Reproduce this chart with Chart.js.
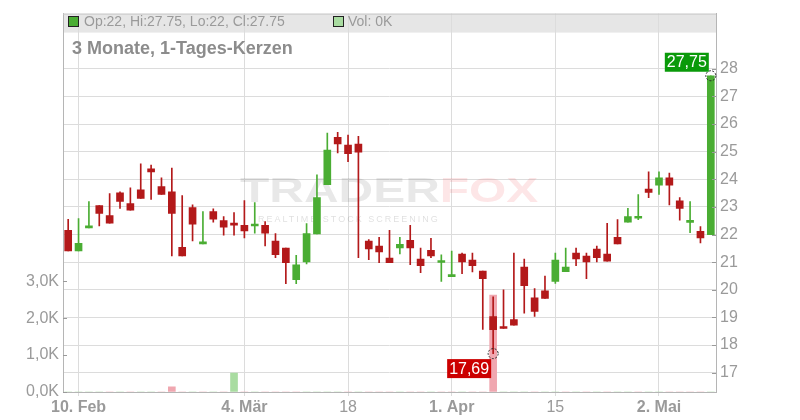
<!DOCTYPE html>
<html>
<head>
<meta charset="utf-8">
<script src="https://cdn.jsdelivr.net/npm/chart.js@4.4.1/dist/chart.umd.min.js"></script>
<style>
  html, body { margin: 0; padding: 0; background: #fff; }
  #wrap { width: 800px; height: 420px; }
</style>
</head>
<body>
<div id="wrap"><canvas id="c"></canvas></div>
<script>
/* 3 Monate, 1-Tages-Kerzen (Chart.js, floating bars as candles). */
const dates = [
  '2025-02-07', '2025-02-10', '2025-02-11', '2025-02-12', '2025-02-13', '2025-02-14',
  '2025-02-17', '2025-02-18', '2025-02-19', '2025-02-20', '2025-02-21',
  '2025-02-24', '2025-02-25', '2025-02-26', '2025-02-27', '2025-02-28',
  '2025-03-03', '2025-03-04', '2025-03-05', '2025-03-06', '2025-03-07',
  '2025-03-10', '2025-03-11', '2025-03-12', '2025-03-13', '2025-03-14',
  '2025-03-17', '2025-03-18', '2025-03-19', '2025-03-20', '2025-03-21',
  '2025-03-24', '2025-03-25', '2025-03-26', '2025-03-27', '2025-03-28',
  '2025-03-31', '2025-04-01', '2025-04-02', '2025-04-03', '2025-04-04',
  '2025-04-07', '2025-04-08', '2025-04-09', '2025-04-10', '2025-04-11',
  '2025-04-14', '2025-04-15', '2025-04-16', '2025-04-17',
  '2025-04-22', '2025-04-23', '2025-04-24', '2025-04-25',
  '2025-04-28', '2025-04-29', '2025-04-30', '2025-05-02',
  '2025-05-05', '2025-05-06', '2025-05-07', '2025-05-08', '2025-05-09',
];
const opens = [
  22.15, 21.41, 22.24, 23.05, 22.69, 23.51, 23.12, 23.62, 24.38, 23.74,
  23.55, 21.54, 22.98, 21.66, 22.83, 22.51, 22.40, 22.33, 22.31, 22.33,
  21.76, 21.51, 20.37, 21.01, 22.02, 23.81, 25.52, 25.24, 25.28, 21.76,
  21.58, 21.15, 21.52, 21.79, 21.11, 21.43, 20.99, 20.48, 21.29, 21.08,
  20.68, 19.03, 18.67, 18.92, 20.82, 19.71, 19.96, 20.30, 20.66, 21.33,
  21.22, 21.47, 21.29, 21.90, 22.45, 22.59, 23.65, 23.79, 24.05, 23.22,
  22.44, 22.12, 22.00,
];
const highs = [
  22.55, 22.58, 23.19, 23.05, 23.48, 23.55, 23.69, 24.56, 24.52, 24.05,
  24.41, 23.41, 23.08, 22.83, 22.93, 22.65, 22.80, 23.23, 23.16, 22.47,
  22.04, 21.51, 21.25, 22.40, 24.16, 25.67, 25.70, 25.60, 25.56, 21.82,
  21.90, 22.15, 21.90, 22.33, 21.51, 21.86, 21.27, 21.40, 21.33, 21.33,
  20.68, 19.75, 20.00, 21.33, 21.11, 20.04, 20.50, 21.33, 21.51, 21.51,
  21.33, 21.58, 22.41, 22.54, 22.95, 23.45, 24.27, 24.27, 24.23, 23.34,
  23.19, 22.29, 27.75,
];
const lows = [
  21.41, 21.41, 22.24, 22.31, 22.41, 22.95, 22.88, 23.31, 23.27, 23.45,
  21.23, 21.23, 21.77, 21.66, 22.45, 21.98, 21.98, 21.88, 22.05, 21.59,
  21.16, 20.22, 20.22, 20.94, 22.02, 23.81, 24.96, 24.64, 21.16, 21.09,
  20.98, 20.98, 21.30, 20.91, 20.62, 21.16, 20.30, 20.48, 20.58, 20.65,
  18.57, 17.69, 18.60, 18.72, 19.15, 19.04, 19.69, 20.23, 20.66, 20.87,
  20.40, 21.01, 21.04, 21.66, 22.45, 22.54, 23.34, 23.45, 23.07, 22.52,
  22.07, 21.70, 22.00,
];
const closes = [
  21.41, 21.68, 22.26, 22.77, 22.41, 23.20, 22.88, 23.31, 24.27, 23.45,
  22.77, 21.23, 22.38, 21.68, 22.56, 22.27, 22.34, 22.13, 22.33, 22.05,
  21.27, 20.98, 20.90, 22.04, 23.34, 25.06, 25.28, 24.93, 24.98, 21.48,
  21.37, 20.98, 21.65, 21.52, 20.87, 21.23, 21.01, 20.50, 21.01, 20.87,
  20.40, 18.56, 18.60, 18.72, 20.15, 19.22, 19.69, 21.08, 20.82, 21.12,
  21.01, 21.16, 21.04, 21.66, 22.65, 22.64, 23.53, 24.05, 23.79, 22.95,
  22.48, 21.88, 27.75,
];
const volumes = [
  0, 0, 0, 0, 0, 0, 0, 0, 0, 0,
  140, 0, 0, 0, 0, 0, 510, 0, 0, 0,
  0, 0, 0, 0, 0, 0, 0, 0, 0, 0,
  0, 0, 0, 0, 0, 0, 0, 0, 0, 0,
  0, 2620, 0, 0, 0, 0, 0, 0, 0, 0,
  0, 0, 0, 0, 0, 0, 0, 0, 0, 0,
  0, 0, 0,
];
const tickLabels = { '2025-02-10': '10. Feb', '2025-03-04': '4. Mär', '2025-03-18': '18',
  '2025-04-01': '1. Apr', '2025-04-15': '15', '2025-05-02': '2. Mai' };
const boldLabels = ['10. Feb', '4. Mär', '1. Apr', '2. Mai'];
const priceTicks = [17, 18, 19, 20, 21, 22, 23, 24, 25, 26, 27, 28];
const volTicks = [0, 1000, 2000, 3000];

const RED = '#b3191a', GREEN = '#4aad33';
const VOL_RED = '#f0a7b0', VOL_GREEN = '#a9dca1';
const FONT = '"Liberation Sans", Arial, sans-serif';
const GRID = '#dcdcdc', AXIS = '#b5b5b5', TXT = '#9a9a9a';

const candleColor = opens.map((o, i) => closes[i] >= o ? GREEN : RED);
const volColor = closes.map((c, i) => i > 0 && c < closes[i - 1] ? VOL_RED : VOL_GREEN);
const fmt = v => String(v);
const komma = v => v.toFixed(2).replace('.', ',');

const last = closes.length - 1;
const iLow = lows.indexOf(Math.min(...lows));
const iHigh = highs.indexOf(Math.max(...highs));

// Kopfzeile, Wasserzeichen, Marker
const deko = {
  id: 'deko',
  beforeDraw(chart) {
    const { ctx, chartArea: a } = chart;
    ctx.save();
    ctx.fillStyle = '#e6e6e6';
    ctx.fillRect(a.left, a.top, a.right - a.left, 19);
    ctx.restore();
  },
  beforeDatasetsDraw(chart) {
    const { ctx } = chart;
    ctx.save();
    ctx.translate(240, 202);
    ctx.scale(1.37, 1);
    ctx.font = 'bold 35px ' + FONT;
    ctx.fillStyle = 'rgba(0,0,0,0.09)';
    ctx.fillText('TRADER', 0, 0);
    const w = ctx.measureText('TRADER').width;
    ctx.fillStyle = 'rgba(240,60,70,0.13)';
    ctx.fillText('FOX', w, 0);
    ctx.restore();
    ctx.save();
    ctx.font = '9px ' + FONT;
    ctx.letterSpacing = '2px';
    ctx.fillStyle = 'rgba(0,0,0,0.13)';
    ctx.fillText('REALTIME STOCK SCREENING', 258, 222);
    ctx.restore();
  },
  afterDraw(chart) {
    const { ctx, chartArea: a, scales } = chart;
    const x = scales.x, y = scales.y, yv = scales.yVol;
    ctx.save();
    // obere Kante
    ctx.strokeStyle = '#c8c8c8';
    ctx.lineWidth = 1;
    ctx.beginPath(); ctx.moveTo(a.left, a.top + 0.5); ctx.lineTo(a.right, a.top + 0.5); ctx.stroke();
    // kleine Striche an den Achsen
    ctx.strokeStyle = '#9a9a9a';
    volTicks.forEach(v => { const py = Math.round(yv.getPixelForValue(v)) + 0.5; ctx.beginPath(); ctx.moveTo(a.left, py); ctx.lineTo(a.left + 4, py); ctx.stroke(); });
    priceTicks.forEach(v => { const py = Math.round(y.getPixelForValue(v)) + 0.5; ctx.beginPath(); ctx.moveTo(a.right - 4, py); ctx.lineTo(a.right, py); ctx.stroke(); });

    // Legende
    ctx.font = '14px ' + FONT;
    ctx.textBaseline = 'alphabetic';
    ctx.fillStyle = GREEN; ctx.fillRect(68.5, 16.5, 10, 10);
    ctx.strokeStyle = '#222'; ctx.strokeRect(68.5, 16.5, 10, 10);
    ctx.fillStyle = TXT;
    ctx.fillText(`Op:${fmt(opens[last])}, Hi:${fmt(highs[last])}, Lo:${fmt(lows[last])}, Cl:${fmt(closes[last])}`, 84, 26);
    ctx.fillStyle = VOL_GREEN; ctx.fillRect(333.5, 16.5, 10, 10);
    ctx.strokeStyle = '#222'; ctx.strokeRect(333.5, 16.5, 10, 10);
    ctx.fillStyle = TXT;
    ctx.fillText('Vol: ' + Math.round(volumes[last] / 1000) + 'K', 348, 26);
    ctx.font = 'bold 18px ' + FONT;
    ctx.fillStyle = '#8c8c8c';
    ctx.fillText('3 Monate, 1-Tages-Kerzen', 72, 54);

    // Hoch / Tief Marker
    const hx = x.getPixelForValue(iHigh), hy = y.getPixelForValue(highs[iHigh]);
    const lx = x.getPixelForValue(iLow), ly = y.getPixelForValue(lows[iLow]);
    ctx.font = '16px ' + FONT;
    ctx.textAlign = 'center';
    ctx.textBaseline = 'middle';
    ctx.fillStyle = '#0a9a0a';
    ctx.fillRect(hx - 46, hy - 23, 44, 19);
    ctx.fillStyle = '#fff';
    ctx.fillText(komma(highs[iHigh]), hx - 24, hy - 13);
    ctx.fillStyle = '#cc0000';
    ctx.fillRect(lx - 46, ly + 5.5, 44, 19);
    ctx.fillStyle = '#fff';
    ctx.fillText(komma(lows[iLow]), lx - 24, ly + 15.5);
    ctx.setLineDash([2, 1.5]);
    ctx.strokeStyle = '#222';
    [[hx, hy], [lx, ly]].forEach(([px, py]) => { ctx.beginPath(); ctx.arc(px, py, 5, 0, Math.PI * 2); ctx.stroke(); });
    ctx.restore();
  },
};

new Chart(document.getElementById('c'), {
  type: 'bar',
  data: {
    labels: dates,
    datasets: [
      { label: 'Körper', data: opens.map((o, i) => [o, closes[i]]), backgroundColor: candleColor,
        barThickness: 7, minBarLength: 2, grouped: false, order: 1, yAxisID: 'y' },
      { label: 'Docht', data: lows.map((l, i) => [l, highs[i]]), backgroundColor: candleColor,
        barThickness: 1, grouped: false, order: 2, yAxisID: 'y' },
      { label: 'Vol', data: volumes, backgroundColor: volColor,
        barThickness: 7, grouped: false, order: 3, yAxisID: 'yVol' },
    ],
  },
  options: {
    responsive: true, maintainAspectRatio: false, animation: false,
    layout: { padding: { top: 11, left: 0, right: 0, bottom: 0 } },
    plugins: { legend: { display: false }, tooltip: { enabled: false } },
    scales: {
      x: {
        offset: true,
        grid: { offset: false, color: c => tickLabels[dates[c.index]] ? GRID : 'transparent', tickLength: 4 },
        border: { color: AXIS },
        ticks: {
          autoSkip: false, maxRotation: 0, padding: 2, color: TXT,
          font: c => ({ family: FONT, size: 16, weight: boldLabels.includes(tickLabels[dates[c.index]]) ? 'bold' : 'normal' }),
          callback: (v, i) => tickLabels[dates[i]] || '',
        },
        afterFit: s => { s.height = 28; },
      },
      y: {
        position: 'right', min: 16.3, max: 30,
        afterBuildTicks: s => { s.ticks = priceTicks.map(v => ({ value: v })); },
        grid: { color: GRID, drawTicks: false },
        border: { color: AXIS },
        ticks: { padding: 4, color: TXT, font: { family: FONT, size: 16 } },
        afterFit: s => { s.width = 84; },
      },
      yVol: {
        position: 'left', min: 0, max: 10240,
        afterBuildTicks: s => { s.ticks = volTicks.map(v => ({ value: v })); },
        grid: { drawOnChartArea: false, drawTicks: false },
        border: { color: AXIS },
        ticks: { padding: 4, color: TXT, font: { family: FONT, size: 16 },
          callback: v => (v / 1000).toFixed(1).replace('.', ',') + 'K' },
        afterFit: s => { s.width = 63; },
      },
    },
  },
  plugins: [deko],
});
</script>
</body>
</html>
